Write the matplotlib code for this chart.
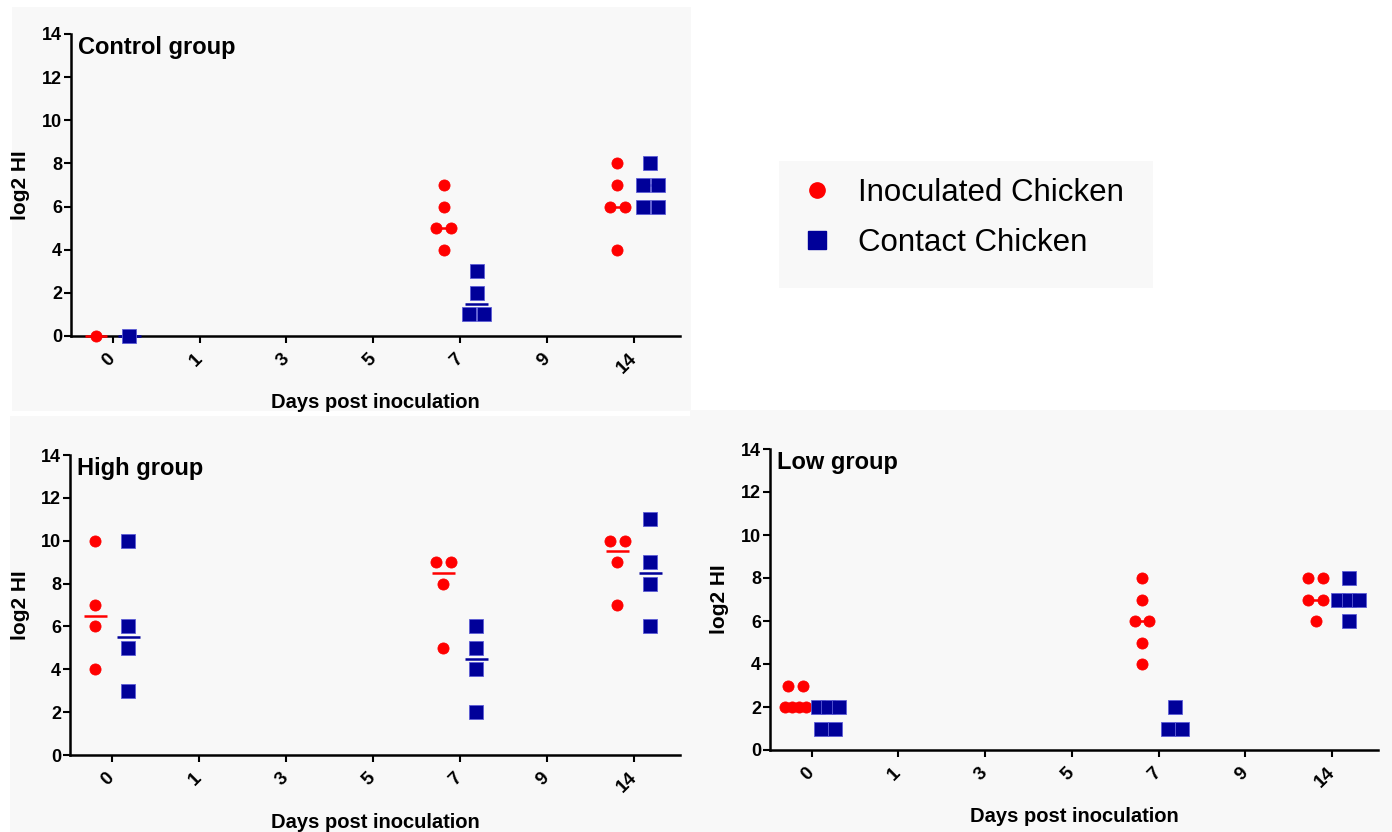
from collections import Counter
import numpy as np
import matplotlib
matplotlib.use("Agg")
import matplotlib.pyplot as plt
from matplotlib import font_manager as fm
from matplotlib.patches import Rectangle
from matplotlib.lines import Line2D

# dane: log2 HI, dni pobrania próbek
days = ["0", "1", "3", "5", "7", "9", "14"]
sample_days = ["0", "7", "14"]

ctrl_inoc = [[0], [7, 6, 5, 5, 4], [8, 7, 6, 6, 4]]
ctrl_cont = [[0], [3, 2, 1, 1], [8, 7, 7, 6, 6]]

high_inoc = [[10, 7, 6, 4], [9, 9, 8, 5], [10, 10, 9, 7]]
high_cont = [[10, 6, 5, 3], [6, 5, 4, 2], [11, 9, 8, 6]]

low_inoc = [[3, 3, 2, 2, 2, 2], [8, 7, 6, 6, 5, 4], [8, 8, 7, 7, 6]]
low_cont = [[2, 2, 2, 1, 1], [2, 1, 1], [8, 7, 7, 7, 6]]

titles = ["Control group", "High group", "Low group"]
labels = ["Inoculated Chicken", "Contact Chicken"]

RED = "#ff0000"
BLUE = "#000099"
BG = "#f8f8f8"
W, H = 1392, 832

names = {f.name for f in fm.fontManager.ttflist}
narrow = "Liberation Sans Narrow" if "Liberation Sans Narrow" in names else "Liberation Sans"
plt.rcParams["font.family"] = [narrow, "DejaVu Sans"]

fig = plt.figure(figsize=(W / 100, H / 100), dpi=100)


def px_rect(x0, y0, x1, y1):
    return [x0 / W, 1 - y1 / H, (x1 - x0) / W, (y1 - y0) / H]


# tła paneli i legendy
for x0, y0, x1, y1 in [(12, 7, 691, 411), (10, 416, 690, 832), (690, 410, 1392, 832), (779, 161, 1153, 288)]:
    l, b, w, h = px_rect(x0, y0, x1, y1)
    fig.patches.append(Rectangle((l, b), w, h, transform=fig.transFigure,
                                 facecolor=BG, edgecolor="none", zorder=-5))


def spread(vals, center):
    xs = np.zeros(len(vals))
    counts = Counter(vals)
    seen = Counter()
    for i, v in enumerate(vals):
        n = counts[v]
        step = 0.17 if n <= 2 else 0.24 / (n - 1)
        xs[i] = center + (seen[v] - (n - 1) / 2) * step
        seen[v] += 1
    return xs


def panel(rect, title, inoc, cont):
    ax = fig.add_axes(px_rect(*rect))
    ax.set_facecolor("none")
    for s in ["top", "right"]:
        ax.spines[s].set_visible(False)
    for s in ["left", "bottom"]:
        ax.spines[s].set_linewidth(1.8)
    ax.set_xlim(-0.48, 6.53)
    ax.set_ylim(0, 14)
    ax.set_yticks(range(0, 15, 2))
    ax.set_xticks(range(len(days)))
    ax.set_xticklabels(days, rotation=45, ha="right", va="center", rotation_mode="anchor",
                       fontweight="bold", fontsize=13.5)
    for t in ax.get_yticklabels():
        t.set_fontweight("bold")
        t.set_fontsize(13)
    ax.tick_params(axis="both", direction="out", length=5, width=1.5)
    ax.tick_params(axis="x", pad=9.5)
    ax.tick_params(axis="y", pad=1.5)

    for j, d in enumerate(sample_days):
        pos = days.index(d)
        for vals, off, col, mk, ms in [(inoc[j], -0.19, RED, "o", 8), (cont[j], 0.19, BLUE, "s", 9.5)]:
            xs = spread(vals, pos + off)
            med = np.median(vals)
            ax.plot([pos + off - 0.13, pos + off + 0.13], [med, med], color=col, lw=1.8,
                    solid_capstyle="butt", clip_on=False, zorder=3)
            ax.plot(xs, vals, linestyle="none", marker=mk, ms=ms, color=col,
                    mec=col if mk == "o" else "#5c5cd6", mew=0.6, clip_on=False, zorder=4)

    ax.text(0.012, 0.995, title, transform=ax.transAxes, ha="left", va="top",
            fontsize=17, fontweight="bold")
    hpx = rect[3] - rect[1]
    wpx = rect[2] - rect[0]
    ax.set_xlabel("Days post inoculation", fontsize=14.5, fontweight="bold")
    ax.xaxis.set_label_coords(0.5, -67 / hpx)
    ax.xaxis.label.set_va("center")
    ax.set_ylabel("log2 HI", fontsize=15, fontweight="bold", family=["Liberation Sans", "DejaVu Sans"])
    ax.yaxis.set_label_coords(-50 / wpx, 0.5)
    ax.yaxis.label.set_va("center")
    return ax


panel((71, 34, 680, 336), titles[0], ctrl_inoc, ctrl_cont)
panel((70, 455, 680, 755), titles[1], high_inoc, high_cont)
panel((770, 449, 1378, 750), titles[2], low_inoc, low_cont)

handles = [
    Line2D([], [], linestyle="none", marker="o", ms=11, color=RED),
    Line2D([], [], linestyle="none", marker="s", ms=13, color=BLUE),
]
fig.legend(handles, labels, loc="center", bbox_to_anchor=(959 / W, 1 - 218 / H),
           frameon=False, prop={"family": ["Liberation Sans", "DejaVu Sans"], "size": 22.5},
           handletextpad=0.55, labelspacing=0.62, handlelength=1.5)

fig.savefig("out.png", dpi=100, facecolor="white")
